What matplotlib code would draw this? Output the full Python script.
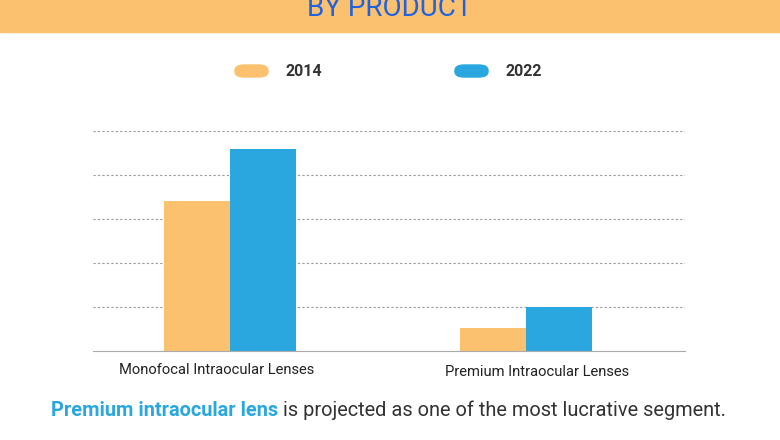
import matplotlib
matplotlib.use("Agg")
import matplotlib.pyplot as plt
from matplotlib.patches import Rectangle, FancyBboxPatch
import numpy as np

plt.rcParams["font.family"] = "Roboto"

categories = ["Monofocal Intraocular Lenses", "Premium Intraocular Lenses"]
years = ["2014", "2022"]
values_2014 = [3.41, 0.52]
values_2022 = [4.59, 1.0]

ORANGE = "#FCC16E"
BLUE = "#2AA7DF"
W, H = 780, 440

fig = plt.figure(figsize=(7.8, 4.4), dpi=100)
fig.patch.set_facecolor("white")

# top banner (title is cut by the top edge, as in the reference)
fig.patches.append(Rectangle((0, 1 - 32 / H), 1, 32 / H, transform=fig.transFigure,
                             color=ORANGE, zorder=0))
fig.text(0.5, 1 - 9 / H, "BY PRODUCT", ha="center", va="center", fontsize=20,
         color="#1f63e0")

# legend
for x0, col, lab in [(235, ORANGE, years[0]), (455, BLUE, years[1])]:
    fig.patches.append(FancyBboxPatch((x0 / W, 1 - 77 / H), 33 / W, 12 / H,
                                      boxstyle="round,pad=0,rounding_size=0.012",
                                      transform=fig.transFigure, color=col))
    fig.text((x0 + 50) / W, 1 - 71 / H, lab, ha="left", va="center",
             fontsize=11.5, fontweight="bold", color="#333333")

ax = fig.add_axes([93 / W, 1 - 351 / H, 592 / W, 220 / H])
x = np.arange(len(categories))
bw = 0.223
ax.bar(x - bw / 2, values_2014, bw, color=ORANGE, zorder=2)
ax.bar(x + bw / 2, values_2022, bw, color=BLUE, zorder=2)
ax.set_xlim(-0.463, 1.537)
ax.set_ylim(0, 5)
ax.set_yticks([1, 2, 3, 4, 5])
ax.yaxis.grid(True, linestyle=(0, (2, 2)), color="#999999", linewidth=0.8, zorder=0)
ax.tick_params(left=False, labelleft=False, bottom=False, labelbottom=False)
for s in ["top", "right", "left"]:
    ax.spines[s].set_visible(False)
ax.spines["bottom"].set_color("#aaaaaa")

for cx, lab, yy in [(217, categories[0], 370), (537, categories[1], 372)]:
    fig.text(cx / W, 1 - yy / H, lab, ha="center", va="center", fontsize=10.6,
             color="#222222")

# bottom caption
t1 = "Premium intraocular lens"
t2 = " is projected as one of the most lucrative segment."
txt = fig.text(51 / W, 1 - 410 / H, t1, ha="left", va="center", fontsize=14.4,
               fontweight="bold", color=BLUE)
fig.canvas.draw()
bb = txt.get_window_extent()
fig.text(bb.x1 / W, 1 - 410 / H, t2, ha="left", va="center", fontsize=14.4,
         color="#333333")

fig.savefig("out.png", dpi=100)
plt.close(fig)
